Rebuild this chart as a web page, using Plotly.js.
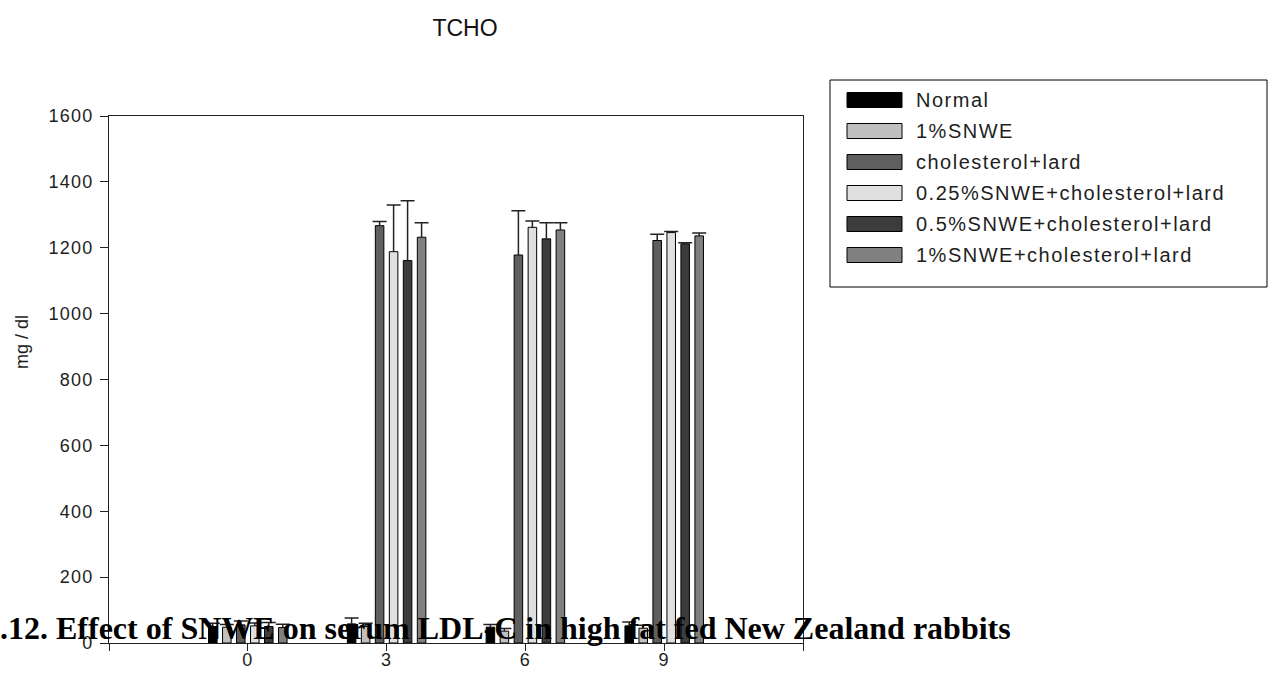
<!DOCTYPE html>
<html>
<head>
<meta charset="utf-8">
<script src="https://cdn.plot.ly/plotly-3.0.1.min.js"></script>
<style>
  html, body { margin: 0; padding: 0; background: #ffffff; }
  #chart { width: 1275px; height: 677px; }
  /* wide, airy lettering for the axis numbers and the key */
  #chart .xtick text, #chart .ytick text { letter-spacing: 1.2px; }
  #chart .annotation[data-index="0"] text,
  #chart .annotation[data-index="1"] text,
  #chart .annotation[data-index="2"] text,
  #chart .annotation[data-index="3"] text,
  #chart .annotation[data-index="4"] text,
  #chart .annotation[data-index="5"] text { letter-spacing: 1.5px; }
</style>
</head>
<body>
<div id="chart"></div>
<script>
// Serum total cholesterol (TCHO), mean and upper SD per feeding group, by week
const weeks = [0, 3, 6, 9];
const groupNames = [
  'Normal',
  '1%SNWE',
  'cholesterol+lard',
  '0.25%SNWE+cholesterol+lard',
  '0.5%SNWE+cholesterol+lard',
  '1%SNWE+cholesterol+lard'
];
const normalMean     = [50, 58, 48, 52];
const normalSD       = [10, 18, 8, 12];
const snwe1Mean      = [48, 50, 36, 45];
const snwe1SD        = [8, 10, 8, 9];
const cholLardMean   = [55, 1267, 1178, 1222];
const cholLardSD     = [12, 13, 134, 19];
const snwe025Mean    = [52, 1188, 1262, 1246];
const snwe025SD      = [9, 142, 19, 3];
const snwe05Mean     = [50, 1161, 1227, 1212];
const snwe05SD       = [12, 182, 49, 3];
const snwe1CholMean  = [47, 1232, 1254, 1236];
const snwe1CholSD    = [10, 44, 22, 9];
const barColors = ['#000000', '#c0c0c0', '#5f5f5f', '#e0e0e0', '#3c3c3c', '#808080'];

const tickWeeks = [-3, 0, 3, 6, 9, 12];
const tickLabels = ['', '0', '3', '6', '9', ''];
const chartTitle = 'TCHO';
const yLabel = 'mg / dl';
const caption = '.12. Effect of SNWE on serum LDL-C in high fat fed New Zealand rabbits';

const means = [normalMean, snwe1Mean, cholLardMean, snwe025Mean, snwe05Mean, snwe1CholMean];
const sds = [normalSD, snwe1SD, cholLardSD, snwe025SD, snwe05SD, snwe1CholSD];

// plot box in pixels
const W = 1275, H = 677;
const L = 109, R = 803, T = 116, B = 643;
const px = v => (v - L) / (R - L);      // pixel x -> paper x
const py = v => (B - v) / (B - T);      // pixel y -> paper y

const sansFont = 'Liberation Sans, Arial, sans-serif';
const inkColor = '#1e1e1e';

const traces = groupNames.map((name, i) => ({
  type: 'bar',
  name: name,
  x: weeks,
  y: means[i],
  marker: { color: barColors[i], line: { color: '#000000', width: 1 } },
  error_y: {
    type: 'data',
    symmetric: false,
    array: sds[i],
    arrayminus: sds[i].map(() => 0),
    color: '#222222',
    thickness: 1.5,
    width: 7
  },
  hoverinfo: 'skip'
}));

// key drawn as a framed box of swatches and labels
const legendLeft = 830, legendRight = 1267, legendTop = 80, legendBottom = 287;
const rowY0 = 100, rowStep = 31;
const shapes = [{
  type: 'rect', xref: 'paper', yref: 'paper',
  x0: px(legendLeft), x1: px(legendRight), y0: py(legendTop), y1: py(legendBottom),
  line: { color: '#000000', width: 1 }, fillcolor: '#ffffff', layer: 'below'
}];
const annotations = [];
groupNames.forEach((name, i) => {
  const cy = rowY0 + i * rowStep;
  shapes.push({
    type: 'rect', xref: 'paper', yref: 'paper',
    x0: px(847), x1: px(902), y0: py(cy + 7.5), y1: py(cy - 7.5),
    line: { color: '#000000', width: 1 }, fillcolor: barColors[i]
  });
  annotations.push({
    xref: 'paper', yref: 'paper', x: px(914), y: py(cy),
    xanchor: 'left', yanchor: 'middle', align: 'left', showarrow: false,
    text: name, font: { family: sansFont, size: 20, color: inkColor }
  });
});

// caption line running across the foot of the chart
annotations.push({
  xref: 'paper', yref: 'paper', x: px(-2), y: py(628),
  xanchor: 'left', yanchor: 'middle', align: 'left', showarrow: false,
  text: caption,
  font: { family: 'Liberation Serif, Times New Roman, serif', size: 32, color: '#000000', weight: 'bold' }
});

annotations.push({
  xref: 'paper', yref: 'paper', x: px(22), y: py(342),
  xanchor: 'center', yanchor: 'middle', showarrow: false, textangle: -90,
  text: yLabel, font: { family: sansFont, size: 18, color: inkColor }
});

const layout = {
  width: W, height: H,
  margin: { l: L, r: W - R, t: T, b: H - B, pad: 0 },
  paper_bgcolor: '#ffffff',
  plot_bgcolor: '#ffffff',
  showlegend: false,
  barmode: 'group',
  bargap: 0.395,
  bargroupgap: 0.39,
  title: {
    text: chartTitle,
    xref: 'paper', x: px(465), xanchor: 'center',
    yref: 'container', y: 1 - 28 / H, yanchor: 'middle',
    font: { family: sansFont, size: 23, color: '#111111' }
  },
  xaxis: {
    range: [-3, 12],
    tickmode: 'array', tickvals: tickWeeks, ticktext: tickLabels,
    ticks: 'outside', ticklen: 7, tickwidth: 1, tickcolor: '#222222',
    ticklabelstandoff: -7,
    showline: true, linecolor: '#222222', linewidth: 1, mirror: true,
    showgrid: false, zeroline: false,
    tickfont: { family: sansFont, size: 18, color: inkColor }
  },
  yaxis: {
    range: [0, 1600],
    tick0: 0, dtick: 200,
    ticks: 'outside', ticklen: 8, tickwidth: 1, tickcolor: '#222222',
    ticklabelstandoff: 3,
    showline: true, linecolor: '#222222', linewidth: 1, mirror: true,
    showgrid: false, zeroline: false,
    tickfont: { family: sansFont, size: 18, color: inkColor }
  },
  shapes: shapes,
  annotations: annotations
};

// error bars only rise above the bar: drop the lower cross-bar
function trimErrorShoes(gd) {
  gd.querySelectorAll('g.errorbar path.yerror').forEach(p => {
    const d = p.getAttribute('d') || '';
    p.setAttribute('d', d.replace(/m-[\d.]+,0h[\d.]+$/, ''));
  });
}

const gd = document.getElementById('chart');
Plotly.newPlot(gd, traces, layout, { staticPlot: true, displayModeBar: false })
  .then(() => {
    trimErrorShoes(gd);
    gd.on('plotly_afterplot', () => trimErrorShoes(gd));
  });
</script>
</body>
</html>
